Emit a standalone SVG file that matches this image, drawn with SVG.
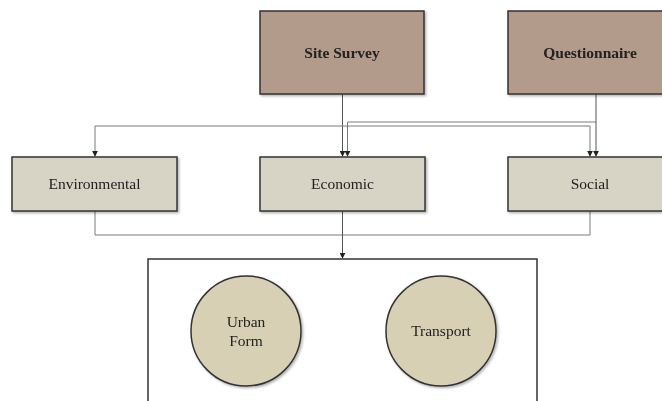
<svg xmlns="http://www.w3.org/2000/svg" width="662" height="401" viewBox="0 0 662 401">
  <style>
    .src { fill: #b39b8b; stroke: #333; stroke-width: 1.5; }
    .dim { fill: #d7d4c5; stroke: #333; stroke-width: 1.5; }
    .topic { fill: #d8d0b5; stroke: #333; stroke-width: 1.5; }
    .frame { fill: #fff; stroke: #333; stroke-width: 1.5; }
    .lbl { font-family: "Liberation Serif", "Times New Roman", serif; font-size: 15.5px; fill: #222; text-anchor: middle; }
    .bold { font-weight: bold; }
    .wire { fill: none; stroke: #7a7a7a; stroke-width: 1; }
    .wire-dark { fill: none; stroke: #555; stroke-width: 1; }
  </style>
  <defs>
    <marker id="arrow" viewBox="0 0 8 8" refX="7" refY="4" markerWidth="6" markerHeight="6" orient="auto" markerUnits="userSpaceOnUse">
      <path d="M0,0 L8,4 L0,8 Z" fill="#222"/>
    </marker>
    <filter id="shadow" x="-10%" y="-10%" width="130%" height="130%">
      <feDropShadow dx="1.5" dy="1.5" stdDeviation="1" flood-color="#000" flood-opacity="0.3"/>
    </filter>
  </defs>

  <rect x="0" y="0" width="662" height="401" fill="#fff"/>

  <!-- outer frame holding the topics -->
  <g id="frame">
    <rect class="frame" x="148" y="259" width="389" height="150"/>
  </g>

  <!-- connectors -->
  <g id="connectors">
    <!-- Site Survey fan-out -->
    <path class="wire-dark" d="M342.5,94 V156" marker-end="url(#arrow)"/>
    <path class="wire" d="M95,126 H590 V156" marker-end="url(#arrow)"/>
    <path class="wire" d="M95,126 V156" marker-end="url(#arrow)"/>
    <!-- Questionnaire fan-out -->
    <path class="wire-dark" d="M596,94 V156" marker-end="url(#arrow)"/>
    <path class="wire" d="M596,122 H347.5 V156" marker-end="url(#arrow)"/>
    <!-- dimensions merge into the frame -->
    <path class="wire" d="M95,211 V235 H590 V211"/>
    <path class="wire-dark" d="M342.5,211 V258" marker-end="url(#arrow)"/>
  </g>

  <!-- data sources -->
  <g id="site-survey" filter="url(#shadow)">
    <rect class="src" x="260" y="11" width="164" height="83"/>
    <text class="lbl bold" x="342" y="58">Site Survey</text>
  </g>
  <g id="questionnaire" filter="url(#shadow)">
    <rect class="src" x="508" y="11" width="164" height="83"/>
    <text class="lbl bold" x="590" y="58">Questionnaire</text>
  </g>

  <!-- dimensions -->
  <g id="environmental" filter="url(#shadow)">
    <rect class="dim" x="12" y="157" width="165" height="54"/>
    <text class="lbl" x="94.5" y="189">Environmental</text>
  </g>
  <g id="economic" filter="url(#shadow)">
    <rect class="dim" x="260" y="157" width="165" height="54"/>
    <text class="lbl" x="342.5" y="189">Economic</text>
  </g>
  <g id="social" filter="url(#shadow)">
    <rect class="dim" x="508" y="157" width="165" height="54"/>
    <text class="lbl" x="590" y="189">Social</text>
  </g>

  <!-- topics -->
  <g id="urban-form" filter="url(#shadow)">
    <circle class="topic" cx="246" cy="331" r="55"/>
    <text class="lbl" x="246" y="327">Urban</text>
    <text class="lbl" x="246" y="346">Form</text>
  </g>
  <g id="transport" filter="url(#shadow)">
    <circle class="topic" cx="441" cy="331" r="55"/>
    <text class="lbl" x="441" y="336">Transport</text>
  </g>
</svg>
